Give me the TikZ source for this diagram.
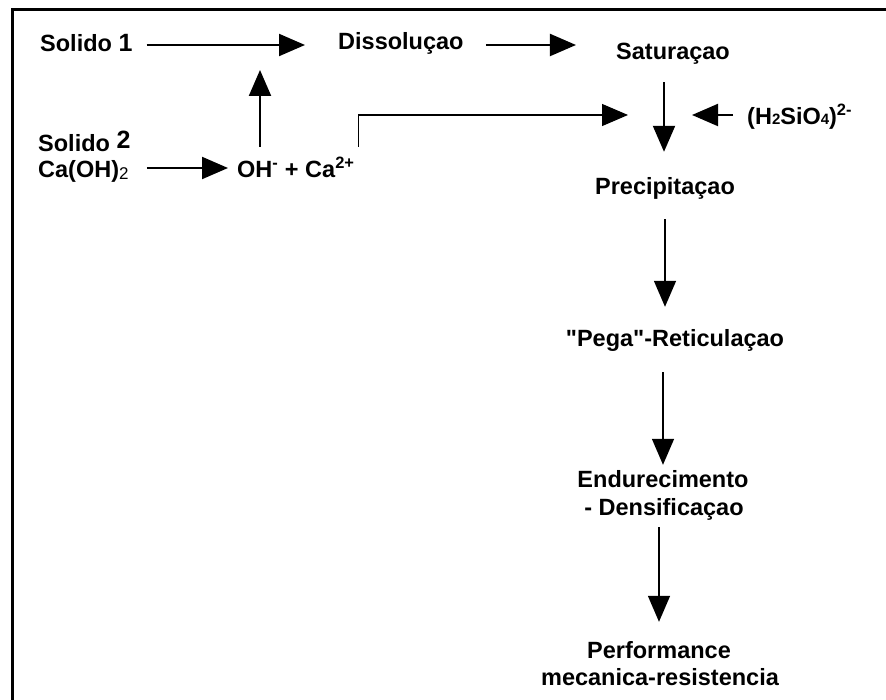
\documentclass[tikz,border=0pt]{standalone}
\usepackage{fontspec}
\setmainfont{Liberation Sans}[Ligatures=TeXOff]
\usetikzlibrary{arrows.meta}
\begin{document}
\begin{tikzpicture}[x=1pt,y=-1pt,
  lbl/.style={inner sep=0pt, text height=16pt, text depth=4pt,
    font=\fontsize{23.5}{28}\selectfont\bfseries, anchor=base west},
  mid/.style={lbl, anchor=base},
  tip/.style={-{Triangle[length=26pt,width=22pt]}},
  arr/.style={tip, line width=2pt},
  arrthin/.style={tip, line width=1.5pt},
  elbow/.style={tip, line width=1.2pt},
  frame/.style={line width=3pt}
]
\useasboundingbox (0,0) rectangle (886,700);
\draw[frame] (12,700) -- (12,10) -- (886,10);

% upper left: the two solids and the ions
\node[lbl] (s1)   at (40,52)   {Solido {\fontsize{25}{28}\selectfont 1}};
\node[lbl] (s2)   at (38,152)  {Solido \raisebox{3pt}{\fontsize{25}{28}\selectfont 2}};
\node[lbl] (caoh) at (38,178)  {Ca(OH)\raisebox{-1.5pt}{\fontsize{17}{20}\selectfont\mdseries 2}};
\node[lbl] (ion)  at (237,178) {OH\textsuperscript{-} + Ca\textsuperscript{2+}};
\node[lbl] (diss) at (338,50)  {Dissoluçao};
\node[mid] (sat)  at (673,60)  {Saturaçao};
\node[lbl] (h2)   at (747,125) {(H{\fontsize{15}{18}\selectfont 2}SiO{\fontsize{15}{18}\selectfont 4})\textsuperscript{2-}};

% main chain
\node[mid] (prec)  at (665,195) {Precipitaçao};
\node[mid] (pega)  at (675,347) {"Pega"-Reticulaçao};
\node[mid] (endur) at (663,487) {Endurecimento};
\node[mid] (dens)  at (664,515) {- Densificaçao};
\node[mid] (perf)  at (659,658) {Performance};
\node[mid] (meca)  at (660,685) {mecanica-resistencia};

% junction points on the arrows
\coordinate (j1) at (260,45);
\coordinate (m)  at (664,115);

% connectors
\draw[arr, shorten <=14pt, shorten >=33pt] (s1.east |- j1) -- (diss.west |- j1);
\draw[arr, shorten <=22pt, shorten >=40pt] (diss.east |- j1) -- (sat.west |- j1);
\draw[arr, shorten <=18pt, shorten >=9pt] ([yshift=4pt]caoh.east) -- ([yshift=4pt]ion.west);
\draw[arr, shorten <=15pt, shorten >=25pt] (ion.north -| j1) -- (j1);
\draw[elbow, shorten <=15pt, shorten >=36pt] ([xshift=4pt]ion.north east) |- (m);
\draw[arr, shorten <=14pt, shorten >=28pt] (h2.west |- m) -- (m);
\draw[arr, shorten <=18pt, shorten >=27pt] (sat.south -| m) -- (prec.north -| m);
\draw[arrthin, shorten <=20pt, shorten >=24pt] (prec.south) -- (prec.south |- pega.north);
\draw[arrthin, shorten <=21pt, shorten >=6pt] (endur.north |- pega.south) -- (endur.north);
\draw[arrthin, shorten <=8pt, shorten >=20pt] (dens.south -| perf.north) -- (perf.north);
\end{tikzpicture}
\end{document}
